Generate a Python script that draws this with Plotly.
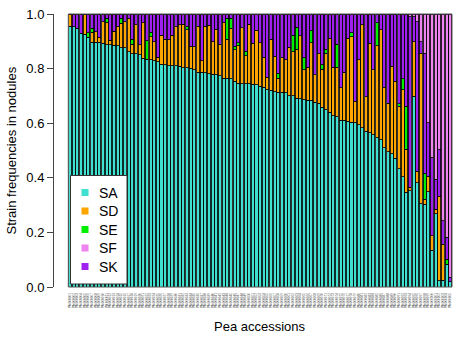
import plotly.graph_objects as go

# ---- data: fractions of strains per pea accession ----
SA = [0.955, 0.954, 0.948, 0.929, 0.926, 0.915, 0.897, 0.897, 0.897, 0.893,
      0.887, 0.887, 0.885, 0.883, 0.877, 0.877, 0.862, 0.854, 0.854, 0.850,
      0.838, 0.835, 0.832, 0.828, 0.826, 0.816, 0.814, 0.811, 0.811, 0.811,
      0.808, 0.804, 0.804, 0.802, 0.796, 0.787, 0.786, 0.784, 0.781, 0.779,
      0.777, 0.774, 0.765, 0.765, 0.763, 0.753, 0.747, 0.745, 0.745, 0.745,
      0.743, 0.741, 0.735, 0.732, 0.723, 0.720, 0.716, 0.713, 0.713, 0.711,
      0.701, 0.701, 0.692, 0.690, 0.686, 0.684, 0.684, 0.677, 0.674, 0.658,
      0.650, 0.640, 0.628, 0.623, 0.610, 0.610, 0.607, 0.603, 0.601, 0.595,
      0.583, 0.570, 0.565, 0.558, 0.546, 0.540, 0.510, 0.495, 0.488, 0.471,
      0.434, 0.403, 0.348, 0.352, 0.698, 0.382, 0.305, 0.303, 0.349, 0.135,
      0.269, 0.023, 0.025, 0.084, 0.020]
SD = [0.045, 0.000, 0.000, 0.000, 0.074, 0.000, 0.036, 0.038, 0.018, 0.079,
      0.081, 0.016, 0.052, 0.071, 0.089, 0.095, 0.122, 0.035, 0.106, 0.037,
      0.130, 0.000, 0.085, 0.071, 0.016, 0.107, 0.094, 0.094, 0.112, 0.143,
      0.152, 0.158, 0.138, 0.079, 0.085, 0.169, 0.043, 0.172, 0.177, 0.120,
      0.168, 0.115, 0.203, 0.143, 0.185, 0.116, 0.136, 0.205, 0.102, 0.217,
      0.150, 0.199, 0.160, 0.110, 0.046, 0.188, 0.130, 0.052, 0.127, 0.121,
      0.177, 0.161, 0.179, 0.230, 0.109, 0.121, 0.211, 0.100, 0.180, 0.140,
      0.206, 0.271, 0.177, 0.182, 0.119, 0.176, 0.304, 0.314, 0.079, 0.237,
      0.377, 0.126, 0.328, 0.238, 0.337, 0.402, 0.221, 0.179, 0.320, 0.282,
      0.228, 0.320, 0.156, 0.014, 0.201, 0.042, 0.552, 0.018, 0.057, 0.052,
      0.016, 0.310, 0.132, 0.000, 0.000]
SE = [0.000, 0.000, 0.000, 0.000, 0.000, 0.017, 0.015, 0.000, 0.000, 0.000,
      0.016, 0.000, 0.000, 0.000, 0.018, 0.000, 0.000, 0.019, 0.000, 0.000,
      0.000, 0.067, 0.016, 0.000, 0.000, 0.000, 0.000, 0.000, 0.000, 0.000,
      0.000, 0.000, 0.012, 0.000, 0.000, 0.000, 0.000, 0.000, 0.000, 0.000,
      0.000, 0.000, 0.000, 0.076, 0.036, 0.012, 0.012, 0.000, 0.015, 0.000,
      0.000, 0.000, 0.000, 0.000, 0.000, 0.000, 0.000, 0.018, 0.000, 0.000,
      0.000, 0.061, 0.080, 0.000, 0.045, 0.000, 0.044, 0.000, 0.000, 0.016,
      0.015, 0.000, 0.000, 0.084, 0.000, 0.000, 0.000, 0.015, 0.000, 0.000,
      0.000, 0.000, 0.000, 0.000, 0.085, 0.000, 0.000, 0.000, 0.000, 0.000,
      0.010, 0.039, 0.158, 0.000, 0.000, 0.000, 0.000, 0.094, 0.000, 0.000,
      0.000, 0.000, 0.000, 0.018, 0.000]
SK = [0.000, 0.046, 0.052, 0.071, 0.000, 0.068, 0.052, 0.065, 0.085, 0.028,
      0.016, 0.097, 0.063, 0.046, 0.016, 0.028, 0.016, 0.092, 0.040, 0.113,
      0.032, 0.098, 0.067, 0.101, 0.158, 0.077, 0.092, 0.095, 0.077, 0.046,
      0.040, 0.038, 0.046, 0.119, 0.119, 0.044, 0.171, 0.044, 0.042, 0.101,
      0.055, 0.111, 0.032, 0.016, 0.016, 0.119, 0.105, 0.050, 0.138, 0.038,
      0.107, 0.060, 0.105, 0.158, 0.231, 0.092, 0.154, 0.217, 0.160, 0.168,
      0.122, 0.077, 0.049, 0.080, 0.160, 0.195, 0.061, 0.223, 0.146, 0.186,
      0.129, 0.089, 0.195, 0.111, 0.271, 0.214, 0.089, 0.068, 0.320, 0.168,
      0.040, 0.304, 0.107, 0.204, 0.032, 0.058, 0.269, 0.326, 0.192, 0.247,
      0.328, 0.238, 0.338, 0.624, 0.091, 0.548, 0.042, 0.442, 0.195, 0.289,
      0.109, 0.170, 0.085, 0.080, 0.016]
SF = [0.0] * 93 + [0.010, 0.010, 0.028, 0.101, 0.143, 0.399, 0.524,
                   0.606, 0.497, 0.758, 0.818, 0.964]

accessions = ["PA-" + str(i).zfill(6) for i in range(1, len(SA) + 1)]
y_ticks = [0.0, 0.2, 0.4, 0.6, 0.8, 1.0]
y_tick_text = ["0.0", "0.2", "0.4", "0.6", "0.8", "1.0"]

legend_order = ["SA", "SD", "SE", "SF", "SK"]
stack_order = [("SA", SA), ("SD", SD), ("SE", SE), ("SK", SK), ("SF", SF)]
colors = {"SA": "#40E0D0", "SD": "#FFA500", "SE": "#00EE00",
          "SF": "#EE82EE", "SK": "#A020F0"}

# ---- layout helpers (pixel -> paper) ----
W, H = 459, 337
ML, MR, MT, MB = 53, 7, 14, 50
PW, PH = W - ML - MR, H - MT - MB


def px(x):
    return (x - ML) / PW


def py(y):
    return (H - MB - y) / PH


FONT = "Liberation Sans, Arial, sans-serif"

fig = go.Figure()
xs = list(range(len(SA)))
for name, vals in stack_order:
    fig.add_trace(go.Bar(
        x=xs, y=vals, name=name, showlegend=False,
        marker=dict(color=colors[name], line=dict(color="#000000", width=0.8)),
    ))

shapes = [
    dict(type="rect", xref="x domain", yref="y domain", x0=0, x1=1, y0=0, y1=1,
         line=dict(color="#555555", width=1), layer="above"),
    dict(type="rect", xref="paper", yref="paper", x0=px(70.5), x1=px(127),
         y0=py(284), y1=py(175.5), fillcolor="white",
         line=dict(color="#333333", width=1), layer="above"),
]
annotations = []
for i, name in enumerate(legend_order):
    cy = 192.5 + i * 18.5
    shapes.append(dict(type="rect", xref="paper", yref="paper",
                       x0=px(81.5), x1=px(88.5), y0=py(cy + 3.5), y1=py(cy - 3.5),
                       fillcolor=colors[name], line=dict(width=0), layer="above"))
    annotations.append(dict(xref="paper", yref="paper", x=px(97), y=py(cy),
                            xanchor="left", yanchor="middle", showarrow=False,
                            text=name, font=dict(size=14, color="#000000", family=FONT)))

annotations.append(dict(xref="paper", yref="paper", x=px(260), y=py(326),
                        xanchor="center", yanchor="middle", showarrow=False,
                        text="Pea accessions",
                        font=dict(size=13, color="#000000", family=FONT)))
annotations.append(dict(xref="paper", yref="paper", x=px(11), y=py(150.5),
                        xanchor="center", yanchor="middle", showarrow=False,
                        textangle=-90, text="Strain frequencies in nodules",
                        font=dict(size=13, color="#000000", family=FONT)))

fig.update_layout(
    width=W, height=H,
    margin=dict(l=ML, r=MR, t=MT, b=MB, autoexpand=False),
    barmode="stack", bargap=0.17,
    plot_bgcolor="white", paper_bgcolor="white",
    font=dict(family=FONT, color="#000000"),
    showlegend=False,
    xaxis=dict(domain=[px(68.3), 1], range=[-0.5, len(SA) - 0.5],
               tickmode="array", tickvals=xs, ticktext=accessions,
               tickangle=-90, tickfont=dict(size=3, color="#444444"),
               ticks="outside", ticklen=4, tickcolor="rgba(0,0,0,0)",
               showgrid=False, zeroline=False, showline=False,
               automargin=False),
    yaxis=dict(range=[0, 1], anchor="free", position=0,
               tickmode="array", tickvals=y_ticks, ticktext=y_tick_text,
               ticks="outside", ticklen=6, tickcolor="#444444",
               tickfont=dict(size=13, color="#000000"),
               showline=True, linecolor="#444444", linewidth=1,
               showgrid=False, zeroline=False, automargin=False),
    shapes=shapes, annotations=annotations,
)

fig.write_html(
    "out.html",
    config={"displayModeBar": False},
    post_script="document.body.style.margin='0px';document.body.style.overflow='hidden';",
)
